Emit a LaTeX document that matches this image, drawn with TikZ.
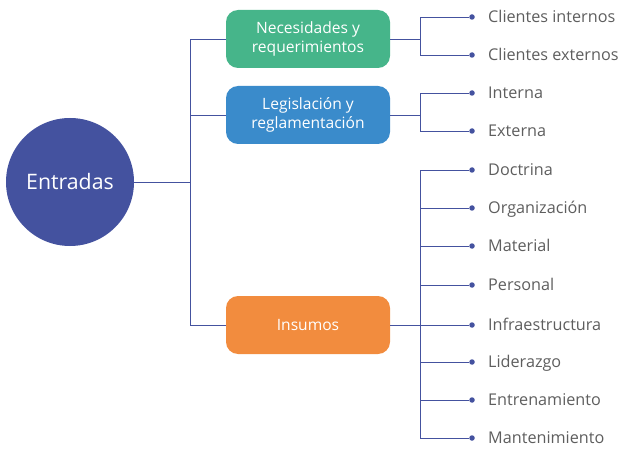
\documentclass[tikz,border=0pt]{standalone}
\usepackage{fontspec}
\setmainfont{Open Sans}
\definecolor{azulos}{HTML}{44529F}
\definecolor{verde}{HTML}{46B58A}
\definecolor{azul}{HTML}{3A8BCB}
\definecolor{naranja}{HTML}{F28C3E}
\definecolor{gris}{HTML}{5E5E5E}

\begin{document}
\begin{tikzpicture}[x=1pt, y=-1pt]
        \tikzstyle{every node}=[inner sep=0pt, text=gris, font=\fontsize{16.2}{18}\selectfont]
        \tikzstyle{caja}=[rectangle, rounded corners=12pt, minimum width=164pt, minimum height=58pt, text=white, align=center, font=\fontsize{15.6}{19}\selectfont]
        \tikzstyle{punto}=[circle, fill=azulos, minimum size=5.5pt]
        \tikzstyle{hoja}=[anchor=west, text height=1.6ex, text depth=0.25ex, yshift=-2pt]
        \tikzstyle{linea}=[azulos, line width=0.9pt]
        \useasboundingbox (0,0) rectangle (621,449);

        \node[circle, fill=azulos, minimum size=128pt, text=white, font=\fontsize{21.3}{25}\selectfont] (e) at (70,182) {Entradas};

        \node[caja, fill=verde]   (nec) at (308,39)  {Necesidades y\\requerimientos};
        \node[caja, fill=azul]    (leg) at (308,115) {Legislación y\\reglamentación};
        \node[caja, fill=naranja] (ins) at (308,325) {Insumos};

        \coordinate (j0) at (190,182);
        \coordinate (j1) at (420,39);
        \coordinate (j2) at (420,115);
        \coordinate (j3) at (420,325);

        % hojas
        \node[punto] (p1) at (472,17)  {}; \node[hoja] (h1) at (488,17)  {Clientes internos};
        \node[punto] (p2) at (472,55)  {}; \node[hoja] (h2) at (488,55)  {Clientes externos};
        \node[punto] (p3) at (472,93)  {}; \node[hoja] (h3) at (488,93)  {Interna};
        \node[punto] (p4) at (472,131) {}; \node[hoja] (h4) at (488,131) {Externa};

        \node[punto] (p5)  at (472,170) {}; \node[hoja] (h5)  at (488,170) {Doctrina};
        \node[punto] (p6)  at (472,208) {}; \node[hoja] (h6)  at (488,208) {Organización};
        \node[punto] (p7)  at (472,246) {}; \node[hoja] (h7)  at (488,246) {Material};
        \node[punto] (p8)  at (472,285) {}; \node[hoja] (h8)  at (488,285) {Personal};
        \node[punto] (p9)  at (472,325) {}; \node[hoja] (h9)  at (488,325) {Infraestructura};
        \node[punto] (p10) at (472,362) {}; \node[hoja] (h10) at (488,362) {Liderazgo};
        \node[punto] (p11) at (472,400) {}; \node[hoja] (h11) at (488,400) {Entrenamiento};
        \node[punto] (p12) at (472,438) {}; \node[hoja] (h12) at (488,438) {Mantenimiento};

        \draw[linea] (e) -- (j0);
        \draw[linea] (j0) |- (nec);
        \draw[linea] (j0) |- (leg);
        \draw[linea] (j0) |- (ins);

        \draw[linea] (nec) -- (j1);
        \draw[linea] (j1) |- (p1);
        \draw[linea] (j1) |- (p2);

        \draw[linea] (leg) -- (j2);
        \draw[linea] (j2) |- (p3);
        \draw[linea] (j2) |- (p4);

        \draw[linea] (ins) -- (j3);
        \draw[linea] (j3) |- (p5);
        \draw[linea] (j3) |- (p6);
        \draw[linea] (j3) |- (p7);
        \draw[linea] (j3) |- (p8);
        \draw[linea] (j3) -- (p9);
        \draw[linea] (j3) |- (p10);
        \draw[linea] (j3) |- (p11);
        \draw[linea] (j3) |- (p12);
    \end{tikzpicture}
\end{document}
